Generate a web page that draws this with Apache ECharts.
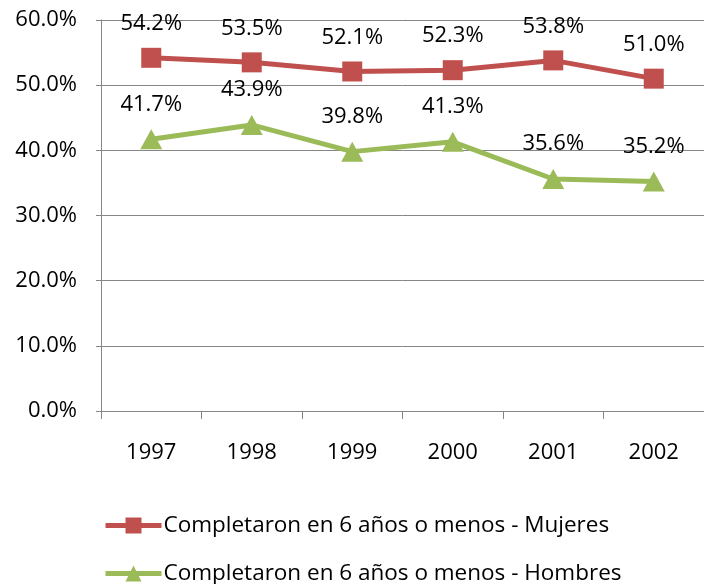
<!DOCTYPE html>
<html>
<head>
<meta charset="utf-8">
<script src="https://cdn.jsdelivr.net/npm/echarts@6/dist/echarts.min.js"></script>
<style>
html,body{margin:0;padding:0;background:#fff;}
#chart{width:704px;height:584px;}
</style>
</head>
<body>
<div id="chart"></div>
<script>
var years = ['1997', '1998', '1999', '2000', '2001', '2002'];
var mujeres = [54.2, 53.5, 52.1, 52.3, 53.8, 51.0];
var hombres = [41.7, 43.9, 39.8, 41.3, 35.6, 35.2];
var seriesNames = ['Completaron en 6 años o menos - Mujeres', 'Completaron en 6 años o menos - Hombres'];

var font = 'Open Sans';
var fs = 22;
function pct(v) { return v.toFixed(1) + '%'; }

var myChart = echarts.init(document.getElementById('chart'));
var legendBase = {
    left: 98,
    itemGap: 0,
    itemWidth: 56,
    itemHeight: 20,
    lineStyle: {width: 5},
    textStyle: {color: '#000', fontSize: 22.5, fontFamily: font, padding: [0, 0, 0, -3]}
};
var option = {
    animation: false,
    textStyle: {fontFamily: font},
    grid: {
        left: 101,
        right: 0,
        top: 20,
        height: 391
    },
    legend: [
        Object.assign({}, legendBase, {top: 509, data: [seriesNames[0]]}),
        Object.assign({}, legendBase, {top: 557, data: [seriesNames[1]]})
    ],
    xAxis: {
        type: 'category',
        data: years,
        boundaryGap: true,
        axisLine: {lineStyle: {color: '#868686', width: 1}},
        axisTick: {show: true, length: 8, lineStyle: {color: '#868686'}},
        axisLabel: {color: '#000', fontSize: fs, margin: 31}
    },
    yAxis: {
        type: 'value',
        min: 0,
        max: 60,
        interval: 10,
        axisLine: {show: true, lineStyle: {color: '#868686', width: 1}},
        axisTick: {show: true, length: 5, lineStyle: {color: '#868686'}},
        splitLine: {lineStyle: {color: '#868686', width: 1}},
        axisLabel: {
            color: '#000',
            fontSize: fs,
            margin: 24,
            formatter: pct
        }
    },
    series: [
        {
            name: seriesNames[0],
            type: 'line',
            data: mujeres,
            symbol: 'rect',
            symbolSize: 20,
            lineStyle: {color: '#c0504d', width: 5},
            itemStyle: {color: '#c0504d'},
            label: {
                show: true,
                position: 'top',
                distance: 13,
                color: '#000',
                fontSize: fs,
                formatter: function (p) { return pct(p.value); }
            }
        },
        {
            name: seriesNames[1],
            type: 'line',
            data: hombres,
            symbol: 'triangle',
            symbolSize: [22, 20],
            lineStyle: {color: '#9bbb59', width: 5},
            itemStyle: {color: '#9bbb59'},
            label: {
                show: true,
                position: 'top',
                distance: 14,
                color: '#000',
                fontSize: fs,
                formatter: function (p) { return pct(p.value); }
            }
        }
    ]
};
myChart.setOption(option);

window.addEventListener('resize', function () {
    myChart.resize();
});
</script>
</body>
</html>
